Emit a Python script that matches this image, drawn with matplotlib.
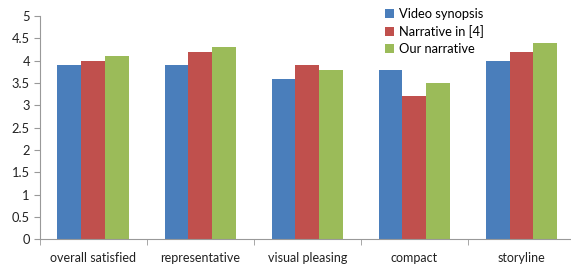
import matplotlib
matplotlib.use("Agg")
import matplotlib.pyplot as plt
import numpy as np

categories = ["overall satisfied", "representative", "visual pleasing", "compact", "storyline"]
series_names = ["Video synopsis", "Narrative in [4]", "Our narrative"]
video_synopsis = [3.9, 3.9, 3.6, 3.8, 4.0]
narrative_4 = [4.0, 4.2, 3.9, 3.2, 4.2]
our_narrative = [4.1, 4.3, 3.8, 3.5, 4.4]
yticks = [0, 0.5, 1, 1.5, 2, 2.5, 3, 3.5, 4, 4.5, 5]
ytick_labels = ["0", "0.5", "1", "1.5", "2", "2.5", "3", "3.5", "4", "4.5", "5"]
colors = ["#4A7EBB", "#C0504D", "#9BBB59"]

plt.rcParams['font.family'] = ['Lato', 'DejaVu Sans']

fig = plt.figure(figsize=(5.71, 2.64), dpi=100)
ax = fig.add_axes([39.6/571, 24.7/264, (575-39.6)/571, (239.3-16)/264])

x = np.arange(len(categories))
w = 0.222
for i, (vals, name) in enumerate(zip([video_synopsis, narrative_4, our_narrative], series_names)):
    ax.bar(x + (i - 1) * w, vals, width=w, color=colors[i], label=name, linewidth=0)

ax.set_xlim(-0.5, len(categories) - 0.5)
ax.set_ylim(0, 5)
ax.set_yticks(yticks)
ax.set_yticklabels(ytick_labels)
ax.set_xticks(x)
ax.set_xticklabels(categories)
ax.set_xticks(np.arange(len(categories) + 1) - 0.5, minor=True)
ax.tick_params(axis='x', which='major', length=0, pad=9, labelsize=9, colors='#222222')
ax.tick_params(axis='x', which='minor', length=4, color='#999999', direction='out')
ax.tick_params(axis='y', length=4, color='#999999', labelsize=9.3, labelcolor='#222222', pad=3)

for s in ['top', 'right']:
    ax.spines[s].set_visible(False)
for s in ['left', 'bottom']:
    ax.spines[s].set_color('#999999')
    ax.spines[s].set_linewidth(0.8)

leg = ax.legend(loc='upper left', bbox_to_anchor=(380/571, 1 - 3/264), bbox_transform=fig.transFigure,
                frameon=False, fontsize=9.3, handlelength=0.7, handleheight=0.7,
                handletextpad=0.4, labelspacing=0.38, borderaxespad=0)

fig.savefig("out.png", dpi=100)
